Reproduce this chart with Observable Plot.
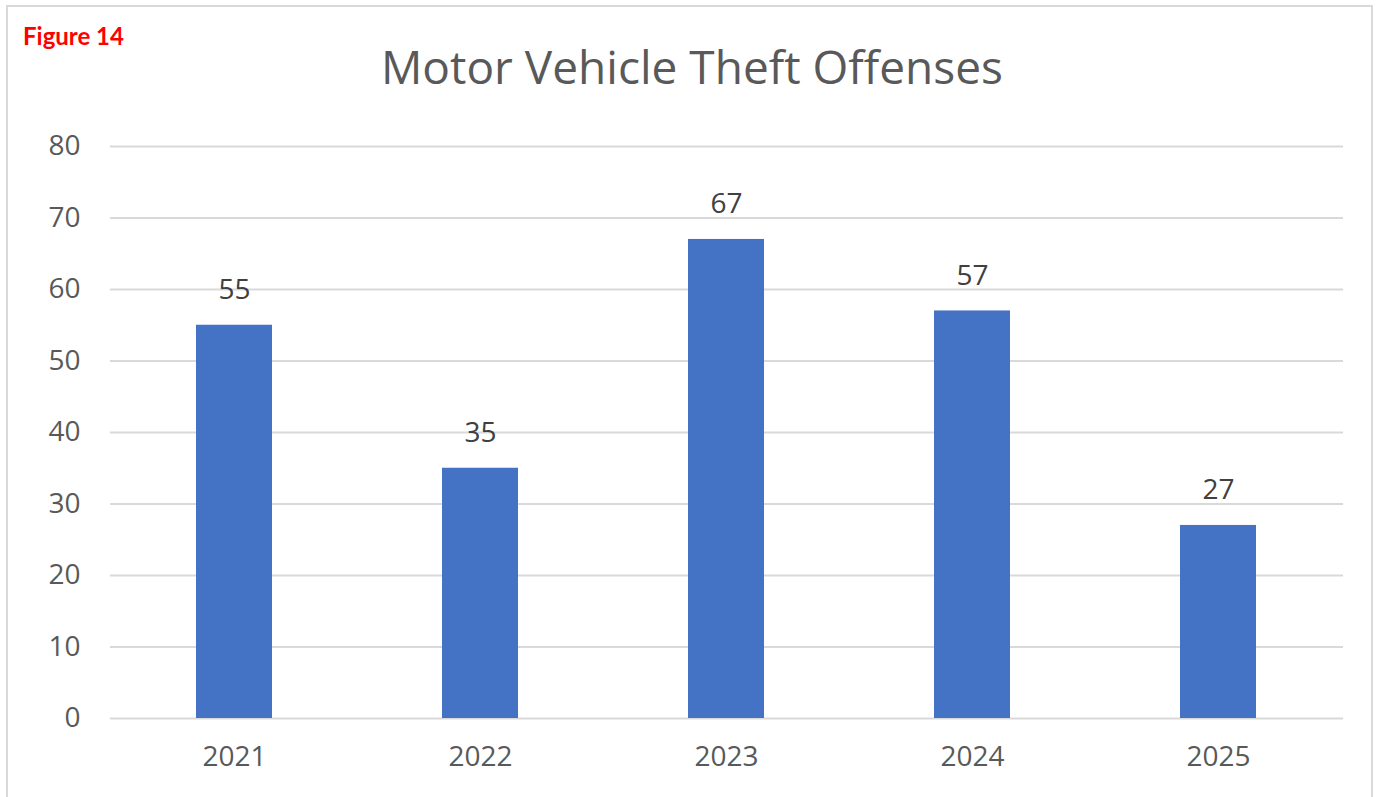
<!DOCTYPE html>
<html>
<head>
<meta charset="utf-8">
<script src="https://cdn.jsdelivr.net/npm/d3@7"></script>
<script src="https://cdn.jsdelivr.net/npm/@observablehq/plot@0.6"></script>
<style>
  html, body { margin: 0; padding: 0; background: #fff; overflow: hidden; }
  #frame { position: absolute; left: 6px; top: 5px; width: 1367px; height: 820px; border: 2px solid #d9d9d9; box-sizing: border-box; }
  #fig { position: absolute; left: 23px; top: 21px; font-family: Lato, sans-serif; font-weight: bold; font-size: 24px; color: #ff0000; }
  #title { position: absolute; left: 0; width: 1384px; top: 35px; text-align: center; font-family: "Open Sans", sans-serif; font-size: 46px; color: #595959; line-height: 63px; }
  #chart { position: absolute; left: 0; top: 0; }
</style>
</head>
<body>
<div id="frame"></div>
<div id="chart"></div>
<div id="fig">Figure 14</div>
<div id="title">Motor Vehicle Theft Offenses</div>
<script>
const years = ["2021", "2022", "2023", "2024", "2025"];
const offenses = [55, 35, 67, 57, 27];
const yTicks = [0, 10, 20, 30, 40, 50, 60, 70, 80];

const data = years.map((y, i) => ({year: y, value: offenses[i]}));

const chart = Plot.plot({
  width: 1384,
  height: 797,
  marginLeft: 110,
  marginRight: 41,
  marginTop: 146,
  marginBottom: 79,
  style: {fontFamily: "'Open Sans', sans-serif", fontSize: "28px", color: "#595959", background: "transparent"},
  x: {domain: years, paddingInner: 0.69, paddingOuter: 0.345, label: null},
  y: {domain: [0, 80], label: null},
  marks: [
    Plot.gridY(yTicks, {stroke: "#d9d9d9", strokeOpacity: 1, strokeWidth: 2}),
    Plot.barY(data, {x: "year", y: "value", fill: "#4472C4"}),
    Plot.text(data, {x: "year", y: "value", text: d => String(d.value), dy: -35, fill: "#404040", fontSize: 28}),
    Plot.axisX({tickSize: 0, tickPadding: 28, fontSize: 28, fill: "#595959"}),
    Plot.axisY({ticks: yTicks, tickSize: 0, tickPadding: 30, fontSize: 28, fill: "#595959"})
  ]
});
document.getElementById("chart").appendChild(chart);
</script>
</body>
</html>
